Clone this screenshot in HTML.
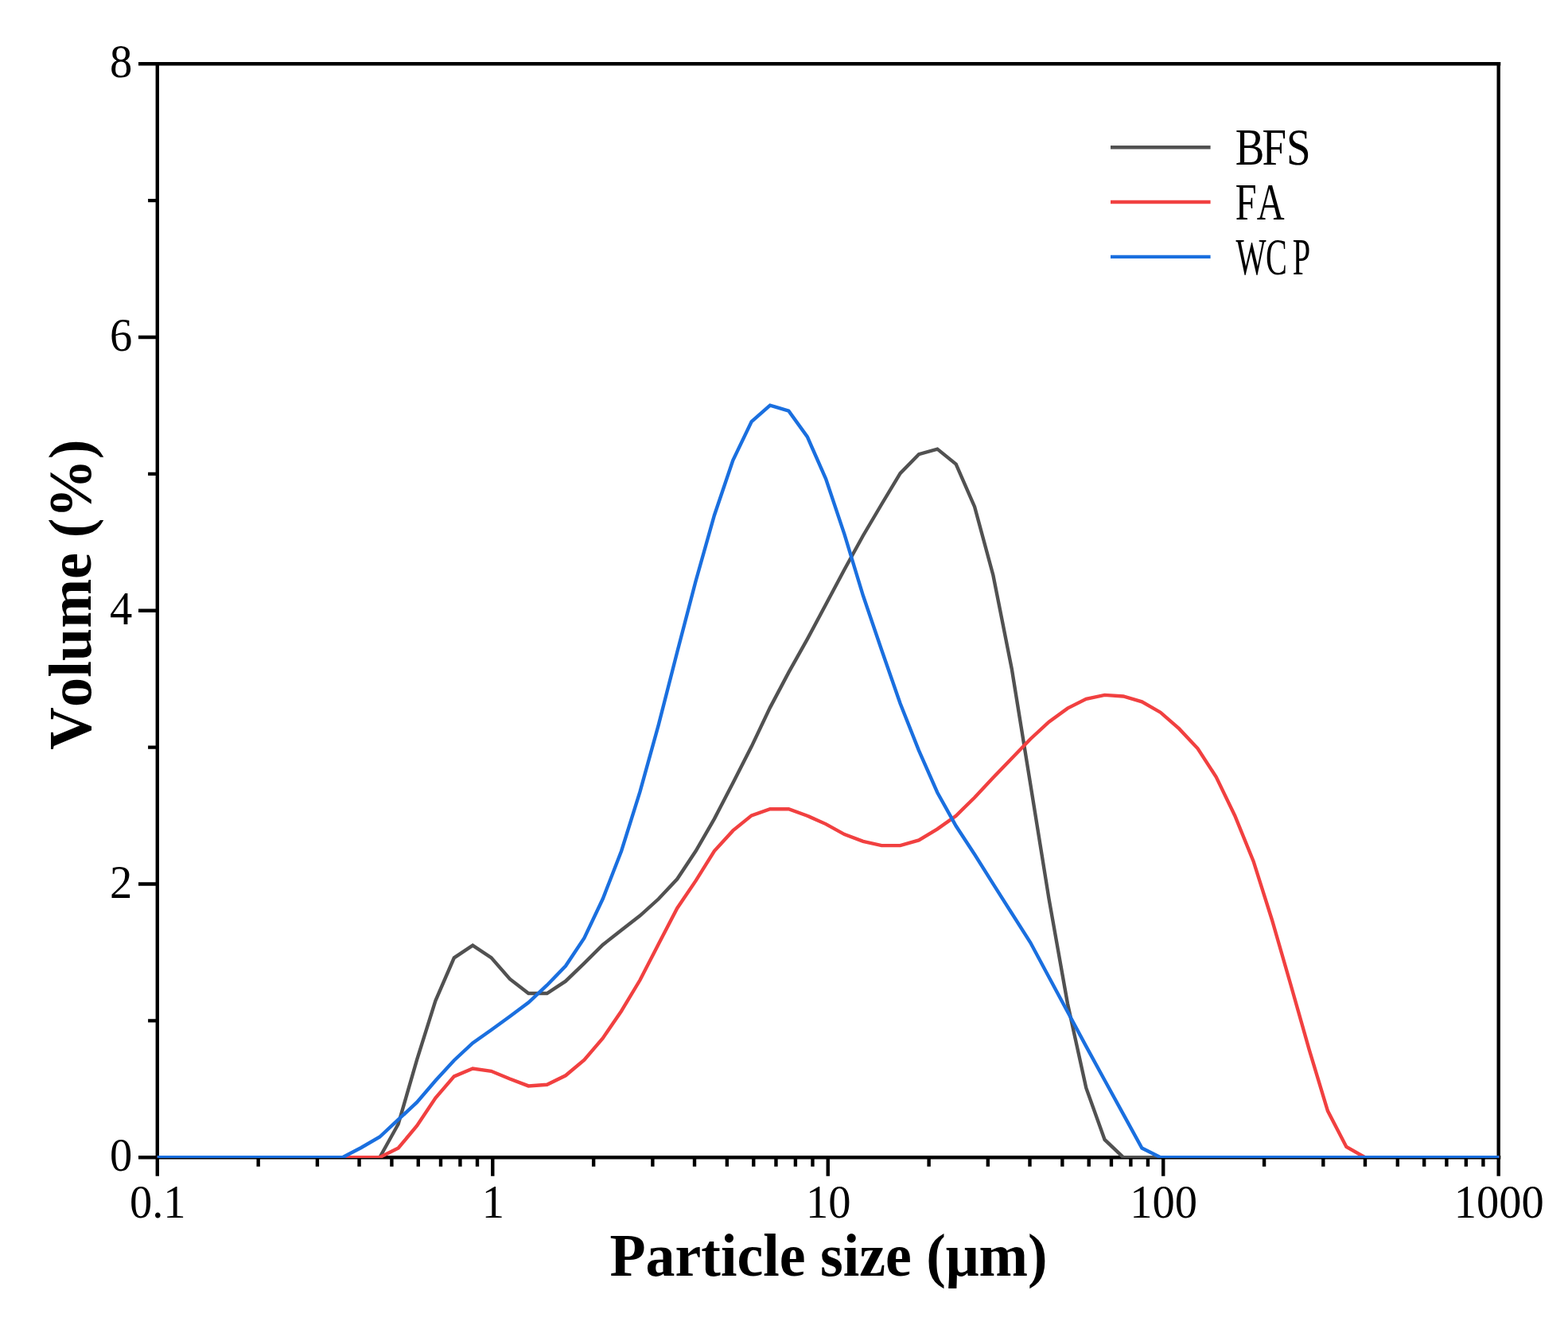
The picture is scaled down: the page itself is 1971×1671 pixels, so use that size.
<!DOCTYPE html>
<html lang="en"><head><meta charset="utf-8"><title>Particle size distribution</title>
<style>html,body{margin:0;padding:0;background:#fff}body{width:1971px;height:1671px;overflow:hidden}svg{display:block}text{font-kerning:none;white-space:pre}
.t{font-family:"Liberation Serif","Times New Roman",serif;font-size:58.6px;fill:#000}
.b{font-family:"Liberation Serif","Times New Roman",serif;font-weight:bold;font-size:75.2px;fill:#000}
.l{font-family:"Liberation Serif","Noto Serif CJK SC",serif;font-weight:normal;font-size:65px;fill:#000}
</style></head><body>
<svg width="1971" height="1671" viewBox="0 0 1971 1671">
<defs><clipPath id="plot"><rect x="197.7" y="79.5" width="1686.7" height="1376.5"/></clipPath></defs>
<rect width="1971" height="1671" fill="#fff"/>
<g stroke="#000" fill="none" stroke-linecap="butt">
<path stroke-width="4.4" d="M197.80 78.00 V1478.80 M1883.70 78.00 V1478.80"/>
<path stroke-width="4.4" d="M174.00 80.20 H1886.30 M174.00 1455.30 H1886.30"/>
<path stroke-width="4.4" d="M186.10 1283.41 H197.80 M174.00 1111.53 H197.80 M186.10 939.64 H197.80 M174.00 767.75 H197.80 M186.10 595.86 H197.80 M174.00 423.98 H197.80 M186.10 252.09 H197.80"/>
<path stroke-width="4.4" d="M324.68 1455.30 V1466.70 M398.89 1455.30 V1466.70 M451.55 1455.30 V1466.70 M492.40 1455.30 V1466.70 M525.77 1455.30 V1466.70 M553.99 1455.30 V1466.70 M578.43 1455.30 V1466.70 M599.99 1455.30 V1466.70 M619.28 1455.30 V1478.80 M746.15 1455.30 V1466.70 M820.37 1455.30 V1466.70 M873.03 1455.30 V1466.70 M913.87 1455.30 V1466.70 M947.25 1455.30 V1466.70 M975.46 1455.30 V1466.70 M999.90 1455.30 V1466.70 M1021.46 1455.30 V1466.70 M1040.75 1455.30 V1478.80 M1167.63 1455.30 V1466.70 M1241.84 1455.30 V1466.70 M1294.50 1455.30 V1466.70 M1335.35 1455.30 V1466.70 M1368.72 1455.30 V1466.70 M1396.94 1455.30 V1466.70 M1421.38 1455.30 V1466.70 M1442.94 1455.30 V1466.70 M1462.23 1455.30 V1478.80 M1589.10 1455.30 V1466.70 M1663.32 1455.30 V1466.70 M1715.98 1455.30 V1466.70 M1756.82 1455.30 V1466.70 M1790.20 1455.30 V1466.70 M1818.41 1455.30 V1466.70 M1842.85 1455.30 V1466.70 M1864.41 1455.30 V1466.70"/>
</g>
<g clip-path="url(#plot)" fill="none" stroke-width="4.4" stroke-linejoin="miter" stroke-miterlimit="3">
<polyline stroke="#515151" points="192.8,1455.2 477.3,1455.2 500.7,1413.2 524.1,1332.3 547.4,1258.3 570.8,1204.3 594.2,1188.7 617.5,1204.1 640.9,1231.0 664.3,1249.0 687.6,1249.0 711.0,1233.7 734.4,1211.2 757.7,1187.9 781.1,1169.5 804.5,1151.3 827.8,1130.3 851.2,1105.3 874.6,1070.0 897.9,1029.6 921.3,984.5 944.7,938.6 968.0,889.6 991.4,845.4 1014.8,803.6 1038.1,760.0 1061.5,716.0 1084.9,673.5 1108.2,634.0 1131.6,595.2 1155.0,571.1 1178.3,564.6 1201.7,583.6 1225.1,637.2 1248.4,723.2 1271.8,841.0 1295.2,985.5 1318.5,1130.0 1341.9,1261.5 1365.3,1368.0 1388.6,1432.9 1412.0,1455.2 1888.7,1455.2"/>
<polyline stroke="#f14040" points="192.8,1455.2 477.3,1455.2 500.7,1443.5 524.1,1415.5 547.4,1380.5 570.8,1353.4 594.2,1343.5 617.5,1346.8 640.9,1356.5 664.3,1365.4 687.6,1363.8 711.0,1352.3 734.4,1332.6 757.7,1305.4 781.1,1271.2 804.5,1232.3 827.8,1187.1 851.2,1142.0 874.6,1107.4 897.9,1070.0 921.3,1044.4 944.7,1025.4 968.0,1017.2 991.4,1017.2 1014.8,1025.7 1038.1,1036.1 1061.5,1049.1 1084.9,1057.9 1108.2,1063.1 1131.6,1063.1 1155.0,1056.4 1178.3,1042.4 1201.7,1025.7 1225.1,1002.7 1248.4,977.8 1271.8,953.5 1295.2,929.2 1318.5,907.7 1341.9,890.6 1365.3,878.9 1388.6,873.9 1412.0,875.5 1435.4,882.3 1458.7,895.7 1482.1,916.2 1505.5,941.1 1528.8,977.0 1552.2,1025.5 1575.6,1082.9 1598.9,1156.5 1622.3,1237.5 1645.7,1319.8 1669.0,1396.8 1692.4,1442.0 1715.8,1455.2 1888.7,1455.2"/>
<polyline stroke="#1a6fdf" points="192.8,1455.2 430.6,1455.2 454.0,1443.0 477.3,1429.5 500.7,1407.7 524.1,1385.9 547.4,1358.7 570.8,1333.2 594.2,1311.5 617.5,1295.0 640.9,1278.0 664.3,1260.5 687.6,1238.7 711.0,1214.5 734.4,1179.4 757.7,1130.3 781.1,1070.0 804.5,995.4 827.8,911.3 851.2,820.0 874.6,730.5 897.9,648.0 921.3,578.8 944.7,530.1 968.0,509.6 991.4,516.6 1014.8,549.2 1038.1,602.1 1061.5,671.8 1084.9,748.8 1108.2,817.3 1131.6,884.5 1155.0,943.6 1178.3,996.5 1201.7,1038.5 1225.1,1074.3 1248.4,1111.3 1271.8,1148.2 1295.2,1185.0 1318.5,1228.5 1341.9,1272.0 1365.3,1315.6 1388.6,1358.2 1412.0,1400.9 1435.4,1443.5 1458.7,1455.2 1888.7,1455.2"/>
</g>
<text class="t" transform="translate(152.10,1472.30) scale(0.965,1)" text-anchor="middle">0</text>
<text class="t" transform="translate(152.10,1128.53) scale(0.965,1)" text-anchor="middle">2</text>
<text class="t" transform="translate(152.10,784.75) scale(0.965,1)" text-anchor="middle">4</text>
<text class="t" transform="translate(152.10,440.98) scale(0.965,1)" text-anchor="middle">6</text>
<text class="t" transform="translate(152.10,97.20) scale(0.965,1)" text-anchor="middle">8</text>
<text class="t" transform="translate(198.30,1530.50) scale(0.965,1)" text-anchor="middle">0.1</text>
<text class="t" transform="translate(619.78,1530.50) scale(0.965,1)" text-anchor="middle">1</text>
<text class="t" transform="translate(1041.25,1530.50) scale(0.965,1)" text-anchor="middle">10</text>
<text class="t" transform="translate(1462.73,1530.50) scale(0.965,1)" text-anchor="middle">100</text>
<text class="t" transform="translate(1884.20,1530.50) scale(0.965,1)" text-anchor="middle">1000</text>
<text class="b" transform="translate(1041.6,1604) scale(0.982,1)" text-anchor="middle">Particle size (μm)</text>
<text class="b" transform="translate(113.5,747.6) rotate(-90) scale(0.989,1)" text-anchor="middle">Volume (%)</text>
<line x1="1396" x2="1521.6" y1="185.2" y2="185.2" stroke="#515151" stroke-width="4.4"/>
<text class="l" transform="translate(0,207.0) scale(0.8459,1)" x="1835.69 1875.41 1911.60">BFS</text>
<line x1="1396" x2="1521.6" y1="254.0" y2="254.0" stroke="#f14040" stroke-width="4.4"/>
<text class="l" transform="translate(0,276.1) scale(0.7433,1)" x="2089.14 2125.40">FA</text>
<line x1="1396" x2="1521.6" y1="322.9" y2="322.9" stroke="#1a6fdf" stroke-width="4.4"/>
<text class="l" transform="translate(0,345.0) scale(0.6200,1)" x="2505.58 2566.07 2620.65">WCP</text>
</svg></body></html>
